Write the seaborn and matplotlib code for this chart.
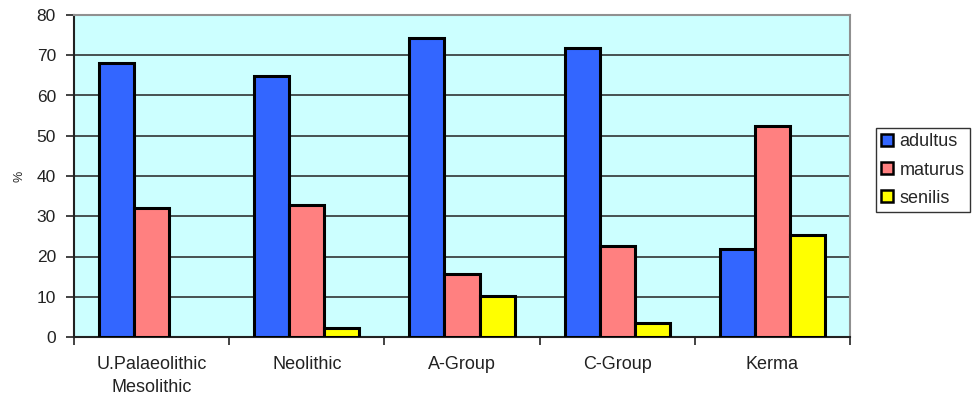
import matplotlib
matplotlib.use("Agg")
import matplotlib.pyplot as plt
import seaborn as sns
import pandas as pd
from matplotlib.patches import Patch

# Age-at-death distribution per period (% of individuals)
periods = ["U.Palaeolithic\nMesolithic", "Neolithic", "A-Group", "C-Group", "Kerma"]
adultus = [68.1, 64.9, 74.4, 71.9, 21.9]
maturus = [32.1, 32.8, 15.6, 22.6, 52.5]
senilis = [0.0, 2.2, 10.3, 3.6, 25.3]
age_classes = ["adultus", "maturus", "senilis"]
y_ticks = [0, 10, 20, 30, 40, 50, 60, 70, 80]

colors = {"adultus": "#3366FF", "maturus": "#FF8080", "senilis": "#FFFF00"}

rows = []
for cls, vals in zip(age_classes, [adultus, maturus, senilis]):
    for p, v in zip(periods, vals):
        rows.append({"period": p, "class": cls, "value": v})
df = pd.DataFrame(rows)

sns.set_style("white")
plt.rcParams["font.family"] = ["Liberation Sans", "DejaVu Sans"]

fig = plt.figure(figsize=(9.72, 4.03), dpi=100)
ax = fig.add_axes([74 / 972, 66 / 403, 776 / 972, 322 / 403])
ax.set_facecolor("#CCFFFF")

sns.barplot(data=df, x="period", y="value", hue="class", order=periods,
            hue_order=age_classes, palette=colors, width=0.677, gap=0,
            edgecolor="black", linewidth=2.2, saturation=1, errorbar=None,
            legend=False, ax=ax, zorder=3)

# remove zero-height bars (no senilis in the first period)
for p in ax.patches:
    if p.get_height() == 0:
        p.set_visible(False)

ax.set_ylim(0, 80)
ax.set_xlim(-0.5, len(periods) - 0.5)
ax.set_yticks(y_ticks)
ax.set_yticklabels([str(t) for t in y_ticks], fontsize=12.5, color="#222222")
for t in y_ticks[1:-1]:
    ax.axhline(t, color="#222222", linewidth=1.1, zorder=1)

# category labels centered, tick marks on category boundaries
ax.set_xticks([i - 0.5 for i in range(len(periods) + 1)])
ax.set_xticklabels([])
ax.set_xticks(range(len(periods)), minor=True)
ax.set_xticklabels(periods, minor=True, fontsize=13, color="#222222",
                   linespacing=1.45)
ax.tick_params(axis="x", which="major", direction="out", length=6, width=1.2,
               color="#222222", bottom=True)
ax.tick_params(axis="x", which="minor", length=0, pad=14)
ax.tick_params(axis="y", direction="out", length=6, width=1.2,
               color="#222222", left=True, pad=7)

ax.set_xlabel("")
ax.set_ylabel("%", fontsize=9)
ax.yaxis.set_label_coords(-0.062, 0.5)

for side in ["left", "bottom"]:
    ax.spines[side].set_color("#222222")
    ax.spines[side].set_linewidth(1.5)
for side in ["top", "right"]:
    ax.spines[side].set_color("#909090")
    ax.spines[side].set_linewidth(1.5)

handles = [Patch(facecolor=colors[c], edgecolor="black", linewidth=1.8, label=c)
           for c in age_classes]
leg = fig.legend(handles=handles, loc="upper left",
                 bbox_to_anchor=(876 / 972, 1 - 128 / 403), frameon=True,
                 fancybox=False, edgecolor="black", fontsize=13,
                 handlelength=0.65, handleheight=0.65, handletextpad=0.35,
                 labelspacing=0.62, borderpad=0.3, borderaxespad=0)
leg.get_frame().set_linewidth(1.0)

fig.savefig("out.png", dpi=100, facecolor="white")
